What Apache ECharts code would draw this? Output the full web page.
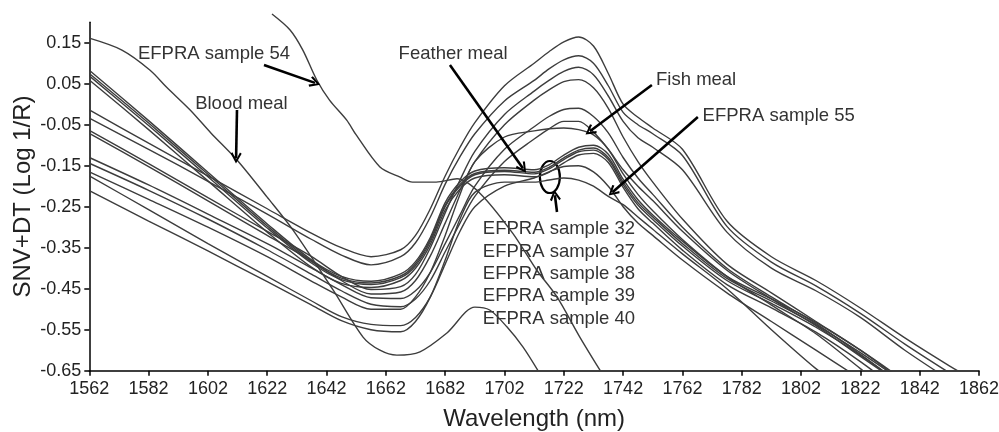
<!DOCTYPE html>
<html><head><meta charset="utf-8">
<script src="https://cdn.jsdelivr.net/npm/echarts@6/dist/echarts.min.js"></script>
<style>html,body{margin:0;padding:0;background:#fff}#c{width:999px;height:432px}</style>
</head><body><div id="c"></div>
<script>
// wavelength grid (nm) shared by the bundle of spectra
const WL = [1562,1582,1602,1622,1637,1647,1657,1667,1672,1677,1682,1687,1692,1702,1712,1717,1722,1727,1732,1737,1742,1747,1752,1762,1777,1792,1807,1822,1837,1852,1862];

const B1 = [0.083,-0.04,-0.166,-0.292,-0.38,-0.42,-0.432,-0.414,-0.384,-0.325,-0.24,-0.19,-0.163,-0.155,-0.16,-0.148,-0.124,-0.105,-0.1,-0.122,-0.183,-0.233,-0.27,-0.334,-0.42,-0.475,-0.532,-0.6,-0.675,null,null];
const B2 = [0.075,-0.046,-0.171,-0.297,-0.384,-0.424,-0.436,-0.419,-0.389,-0.33,-0.246,-0.196,-0.169,-0.161,-0.166,-0.154,-0.131,-0.112,-0.107,-0.13,-0.19,-0.24,-0.275,-0.34,-0.425,-0.48,-0.538,-0.606,-0.68,null,null];
const B3 = [0.069,-0.052,-0.177,-0.302,-0.388,-0.428,-0.44,-0.423,-0.394,-0.335,-0.25,-0.2,-0.172,-0.164,-0.17,-0.158,-0.135,-0.116,-0.112,-0.135,-0.196,-0.246,-0.281,-0.346,-0.43,-0.486,-0.544,-0.612,-0.69,null,null];
const B4 = [0.059,-0.062,-0.187,-0.312,-0.398,-0.437,-0.447,-0.43,-0.4,-0.342,-0.258,-0.207,-0.18,-0.172,-0.177,-0.166,-0.143,-0.124,-0.12,-0.142,-0.203,-0.255,-0.29,-0.356,-0.44,-0.497,-0.556,-0.628,-0.71,null,null];
const C1 = [-0.014,-0.095,-0.175,-0.255,-0.315,-0.35,-0.372,-0.355,-0.32,-0.255,-0.175,-0.105,-0.045,0.045,0.1,0.128,0.152,0.164,0.142,0.075,0.0,-0.032,-0.058,-0.11,-0.285,-0.372,-0.43,-0.497,-0.57,-0.638,-0.68];
const C2 = [-0.034,-0.11,-0.188,-0.268,-0.33,-0.368,-0.392,-0.372,-0.338,-0.275,-0.195,-0.128,-0.072,0.008,0.058,0.086,0.108,0.118,0.1,0.045,-0.02,-0.05,-0.072,-0.125,-0.298,-0.385,-0.443,-0.51,-0.585,-0.655,-0.7];
const C3 = [-0.064,-0.145,-0.228,-0.31,-0.372,-0.42,-0.452,-0.445,-0.415,-0.35,-0.265,-0.185,-0.115,-0.025,0.032,0.058,0.08,0.09,0.072,0.02,-0.042,-0.082,-0.105,-0.16,-0.312,-0.4,-0.455,-0.52,-0.6,-0.672,null];
const C4 = [-0.071,-0.152,-0.236,-0.32,-0.382,-0.43,-0.463,-0.458,-0.43,-0.37,-0.29,-0.21,-0.14,-0.05,0.01,0.035,0.055,0.06,0.04,-0.01,-0.08,-0.14,-0.19,-0.28,-0.39,-0.46,-0.53,-0.6,-0.68,null,null];
const D1 = [-0.13,-0.197,-0.268,-0.34,-0.4,-0.44,-0.472,-0.474,-0.455,-0.41,-0.34,-0.27,-0.2,-0.11,-0.055,-0.03,-0.013,-0.01,-0.03,-0.07,-0.13,-0.18,-0.22,-0.3,-0.4,-0.47,-0.535,-0.61,-0.69,null,null];
const D2 = [-0.144,-0.21,-0.28,-0.355,-0.415,-0.455,-0.488,-0.494,-0.475,-0.43,-0.36,-0.29,-0.225,-0.14,-0.085,-0.06,-0.042,-0.042,-0.068,-0.11,-0.16,-0.2,-0.235,-0.31,-0.405,-0.475,-0.54,-0.615,-0.69,null,null];
const D3 = [-0.165,-0.232,-0.3,-0.372,-0.432,-0.47,-0.5,-0.5,-0.47,-0.41,-0.32,-0.22,-0.14,-0.08,-0.065,-0.06,-0.058,-0.062,-0.075,-0.11,-0.17,-0.22,-0.26,-0.33,-0.42,-0.49,-0.56,-0.645,-0.73,null,null];
const D4 = [-0.175,-0.257,-0.34,-0.42,-0.48,-0.518,-0.537,-0.54,-0.52,-0.47,-0.39,-0.31,-0.25,-0.2,-0.18,-0.165,-0.152,-0.15,-0.165,-0.2,-0.25,-0.29,-0.32,-0.38,-0.46,-0.53,-0.6,-0.67,null,null,null];
const D5 = [-0.211,-0.285,-0.358,-0.433,-0.49,-0.528,-0.55,-0.555,-0.53,-0.47,-0.38,-0.28,-0.215,-0.19,-0.19,-0.185,-0.18,-0.185,-0.2,-0.225,-0.245,-0.275,-0.305,-0.365,-0.45,-0.55,-0.645,-0.73,null,null,null];

// individually sampled spectra [wavelength, value]
const bloodMeal = [[1562,0.161],[1573,0.132],[1582.5,0.083],[1588,0.042],[1596,-0.014],[1603,-0.07],[1611.8,-0.136],[1621.9,-0.226],[1630.7,-0.307],[1644.2,-0.453],[1654.3,-0.568],[1660,-0.6],[1665.7,-0.612],[1673.5,-0.604],[1682.6,-0.558],[1692,-0.495],[1697,-0.502],[1702.8,-0.543],[1708.2,-0.592],[1713.3,-0.65]];
const sample54 = [[1623.6,0.22],[1629.7,0.181],[1634,0.132],[1638.7,0.059],[1643,0.01],[1648.8,-0.039],[1652,-0.075],[1660,-0.153],[1666.8,-0.178],[1671,-0.19],[1679,-0.19],[1686,-0.182],[1693.7,-0.217],[1704.8,-0.315],[1712.9,-0.405],[1719.7,-0.47],[1727.4,-0.568],[1734.3,-0.65]];

const bundle = [B1,B2,B3,B4,C1,C2,C3,C4,D1,D2,D3,D4,D5];

const xTicks = [1562,1582,1602,1622,1642,1662,1682,1702,1722,1742,1762,1782,1802,1822,1842,1862];
const yTicks = [-0.65,-0.55,-0.45,-0.35,-0.25,-0.15,-0.05,0.05,0.15];

// annotation texts [label, wavelength, value]
const notes = [
  ['EFPRA sample 54', 1578.4, 0.1224],
  ['Blood meal', 1597.7, 0.0],
  ['Feather meal', 1666.3, 0.1224],
  ['Fish meal', 1753.1, 0.060],
  ['EFPRA sample 55', 1768.8, -0.029]
];
const groupNote = ['EFPRA sample 32','EFPRA sample 37','EFPRA sample 38','EFPRA sample 39','EFPRA sample 40'];
// arrows [from, to]
const arrows = [
  [[1620.9,0.0956],[1638.1,0.052]],
  [[1611.8,-0.014],[1611.5,-0.131]],
  [[1683.6,0.0956],[1708.2,-0.156]],
  [[1751.7,0.047],[1730.8,-0.066]],
  [[1767.2,-0.031],[1738.5,-0.214]],
  [[1719.7,-0.263],[1719.0,-0.222]]
];

const FONT = "'Liberation Sans', Arial, Helvetica, sans-serif";
const LINE = '#3d3d3d';

const series = bundle.map(v => ({
  type: 'line', smooth: 0.3, symbol: 'none', clip: true, silent: true,
  lineStyle: {color: LINE, width: 1.4},
  data: WL.map((x, i) => [x, v[i]]).filter(p => p[1] !== null)
}));
series.push({type:'line', smooth:0.3, symbol:'none', clip:true, silent:true, lineStyle:{color:LINE,width:1.4}, data: bloodMeal});
series.push({type:'line', smooth:0.3, symbol:'none', clip:false, silent:true, lineStyle:{color:LINE,width:1.4}, data: sample54});
const chevron = 'path://M5,0 L10,9 L8.4,10.2 L5,3.4 L1.6,10.2 L0,9 Z';
series.push({
  type:'line', data: [], silent:true,
  markLine: {
    silent: true, animation: false,
    symbol: ['none', chevron], symbolSize: [11, 11],
    label: {show: false},
    lineStyle: {color: '#000', width: 2.6, type: 'solid'},
    emphasis: {disabled: true},
    data: arrows.map(a => [{coord: a[0]}, {coord: a[1]}])
  }
});

const chart = echarts.init(document.getElementById('c'));
chart.setOption({
  animation: false,
  backgroundColor: '#fff',
  grid: {left: 89.3, right: 20, top: 22.2, bottom: 61.3, containLabel: false, outerBoundsMode: 'none'},
  xAxis: {
    type: 'value', min: 1562, max: 1862,
    name: 'Wavelength (nm)', nameLocation: 'middle', nameGap: 37, nameMoveOverlap: false,
    nameTextStyle: {fontSize: 24, fontFamily: FONT, color: '#222'},
    axisLine: {onZero: false, lineStyle: {color: '#000', width: 1.5}},
    axisTick: {show: true, length: 5, customValues: xTicks, lineStyle: {color:'#000', width:1.5}},
    axisLabel: {customValues: xTicks, fontSize: 18, fontFamily: FONT, color: '#222', margin: 9,
      formatter: v => String(Math.round(v))},
    splitLine: {show: false}
  },
  yAxis: {
    type: 'value', min: -0.65, max: 0.2,
    name: 'SNV+DT (Log 1/R)', nameLocation: 'middle', nameGap: 54, nameRotate: 90, nameMoveOverlap: false,
    nameTextStyle: {fontSize: 24, fontFamily: FONT, color: '#222'},
    axisLine: {show: true, onZero: false, lineStyle: {color: '#000', width: 1.5}},
    axisTick: {show: true, length: 5, customValues: yTicks, lineStyle: {color:'#000', width:1.5}},
    axisLabel: {customValues: yTicks, fontSize: 18, fontFamily: FONT, color: '#222', margin: 8,
      formatter: v => v.toFixed(2)},
    splitLine: {show: false}
  },
  series: series
});

const px = (x, y) => chart.convertToPixel({gridIndex: 0}, [x, y]);
const graphic = notes.map(n => {
  const p = px(n[1], n[2]);
  return {type:'text', x: p[0], y: p[1], silent: true,
    style: {text: n[0], fontSize: 18.5, fontFamily: FONT, fill: '#333', verticalAlign: 'middle', align: 'left'}};
});
const g0 = px(1694.7, -0.305);
graphic.push({type:'text', x: g0[0], y: g0[1] - 11.15, silent: true,
  style: {text: groupNote.join('\n'), fontSize: 18.5, lineHeight: 22.3, fontFamily: FONT, fill: '#333', verticalAlign: 'top', align: 'left'}});
const e0 = px(1717.3, -0.1776);
graphic.push({type:'ellipse', silent: true, shape: {cx: e0[0], cy: e0[1], rx: 10, ry: 16},
  style: {fill: 'none', stroke: '#000', lineWidth: 2.2}});
chart.setOption({graphic: graphic});
</script></body></html>
